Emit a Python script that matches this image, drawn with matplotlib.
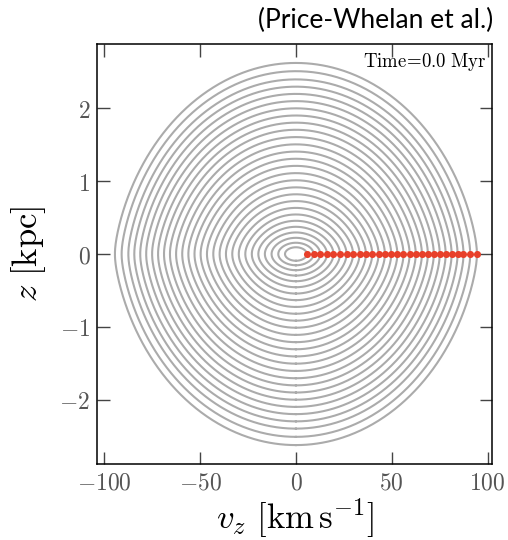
import numpy as np
import matplotlib
matplotlib.use("Agg")
import matplotlib.pyplot as plt

plt.rcParams['mathtext.fontset'] = 'cm'

# starting vz of each orbit at z=0 (red dots), km/s
vz_start = [5.7, 9.2, 12.7, 16.2, 19.6, 23.0, 26.4, 29.8, 33.2, 36.5,
            39.8, 43.1, 46.4, 49.7, 52.9, 56.1, 59.3, 62.5, 65.7, 68.8,
            71.9, 75.0, 78.1, 81.2, 84.3, 87.4, 90.9, 94.4]
z_start = [0.0] * len(vz_start)

xticks = [-100, -50, 0, 50, 100]
yticks = [-2, -1, 0, 1, 2]

# vertical potential: softened thin disk + harmonic halo term
K = 550.0
b = 0.18
C = 906.0

def phi(z):
    return K * (np.sqrt(z**2 + b**2) - b) + 0.5 * C * z**2

zgrid = np.linspace(0, 4, 4001)

fig = plt.figure(figsize=(5.08, 5.40), dpi=100)
ax = fig.add_axes([0.1915, 0.1407, 0.7775, 0.7778])

th = np.linspace(-np.pi/2, np.pi/2, 500)
for v0 in vz_start:
    E = 0.5 * v0**2
    zmax = np.interp(E, phi(zgrid), zgrid)
    z = zmax * np.sin(th)
    v = np.sqrt(np.clip(2*(E - phi(z)), 0, None))
    zz = np.concatenate([z, z[::-1]])
    vv = np.concatenate([v, -v[::-1]])
    ax.plot(vv, zz, '-', color='#ababab', lw=1.5, zorder=1)

ax.scatter(vz_start, z_start, s=26, color='#e8402a', zorder=3, linewidths=0)

ax.set_xlim(-103.6, 102.4)
ax.set_ylim(-2.88, 2.88)
ax.set_xticks(xticks)
ax.set_yticks(yticks)
ax.set_xticklabels(['$%d$' % t for t in xticks])
ax.set_yticklabels(['$%d$' % t for t in yticks])
ax.tick_params(direction='in', top=True, right=True, length=9, width=1,
               color='#444444', labelcolor='#555555', labelsize=17, pad=5)
for s in ax.spines.values():
    s.set_linewidth(1.1)

ax.set_xlabel(r'$v_z\ [\mathrm{km}\,\mathrm{s}^{-1}]$', fontsize=25, labelpad=1)
ax.set_ylabel(r'$z\ [\mathrm{kpc}]$', fontsize=25, labelpad=8)

ax.text(0.985, 0.983, r'$\mathrm{Time}\!=\!0.0\ \mathrm{Myr}$', transform=ax.transAxes,
        ha='right', va='top', fontsize=13.5)

fig.text(0.970, 0.948, '(Price-Whelan et al.)', family='Lato', fontsize=19,
         ha='right', va='baseline')

plt.savefig('out.png', dpi=100)
